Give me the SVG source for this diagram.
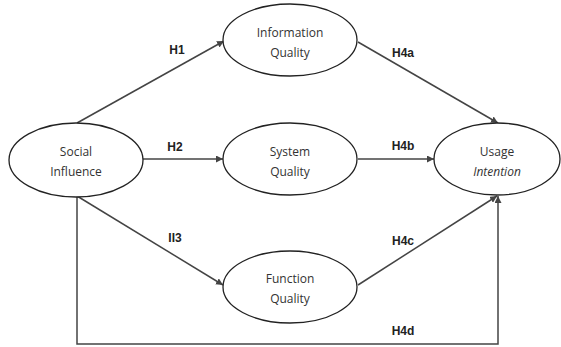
<svg xmlns="http://www.w3.org/2000/svg" width="561" height="347" viewBox="0 0 561 347">
<style>
.node ellipse{fill:#fff;stroke:#222;stroke-width:1.3}
.node text{font-family:"Open Sans","Liberation Sans",sans-serif;font-size:12px;fill:#333;text-anchor:middle}
.conn line,.conn polyline{stroke:#444;stroke-width:1.5;fill:none}
.lbl{font-family:"Liberation Sans",sans-serif;font-size:12px;font-weight:bold;fill:#222;text-anchor:middle}
</style>
<defs>
<marker id="ah" viewBox="0 0 10 10" refX="10" refY="5" markerWidth="7" markerHeight="7" orient="auto" markerUnits="userSpaceOnUse">
<path d="M0,0 L10,5 L0,10 z" fill="#444"/>
</marker>
</defs>
<rect width="561" height="347" fill="#fff"/>
<g class="conn">
<line x1="77" y1="123" x2="224" y2="41" marker-end="url(#ah)"/>
<line x1="143" y1="159" x2="223" y2="159" marker-end="url(#ah)"/>
<line x1="77" y1="196" x2="223" y2="285" marker-end="url(#ah)"/>
<line x1="358" y1="42" x2="498" y2="123" marker-end="url(#ah)"/>
<line x1="358" y1="159" x2="434" y2="159" marker-end="url(#ah)"/>
<line x1="358" y1="285" x2="497" y2="196" marker-end="url(#ah)"/>
<polyline points="77,196 77,344 498,344 498,196" stroke-width="2" marker-end="url(#ah)"/>
</g>
<g id="labels">
<text class="lbl" x="177" y="54">H1</text>
<text class="lbl" x="175" y="151">H2</text>
<text class="lbl" x="175" y="242">II3</text>
<text class="lbl" x="403" y="57">H4a</text>
<text class="lbl" x="403" y="150">H4b</text>
<text class="lbl" x="403" y="245">H4c</text>
<text class="lbl" x="403" y="335">H4d</text>
</g>
<g id="social" class="node">
<ellipse cx="76" cy="160" rx="67" ry="37"/>
<text x="76" y="156">Social</text>
<text x="76" y="176">Influence</text>
</g>
<g id="info" class="node">
<ellipse cx="290" cy="40" rx="67" ry="36"/>
<text x="290" y="37">Information</text>
<text x="290" y="57">Quality</text>
</g>
<g id="system" class="node">
<ellipse cx="290" cy="159" rx="67" ry="36"/>
<text x="290" y="156">System</text>
<text x="290" y="176">Quality</text>
</g>
<g id="function" class="node">
<ellipse cx="290" cy="287" rx="67" ry="36"/>
<text x="290" y="283">Function</text>
<text x="290" y="303">Quality</text>
</g>
<g id="usage" class="node">
<ellipse cx="497" cy="159" rx="63" ry="36"/>
<text x="497" y="156">Usage</text>
<text x="497" y="176" font-style="italic">Intention</text>
</g>
</svg>
